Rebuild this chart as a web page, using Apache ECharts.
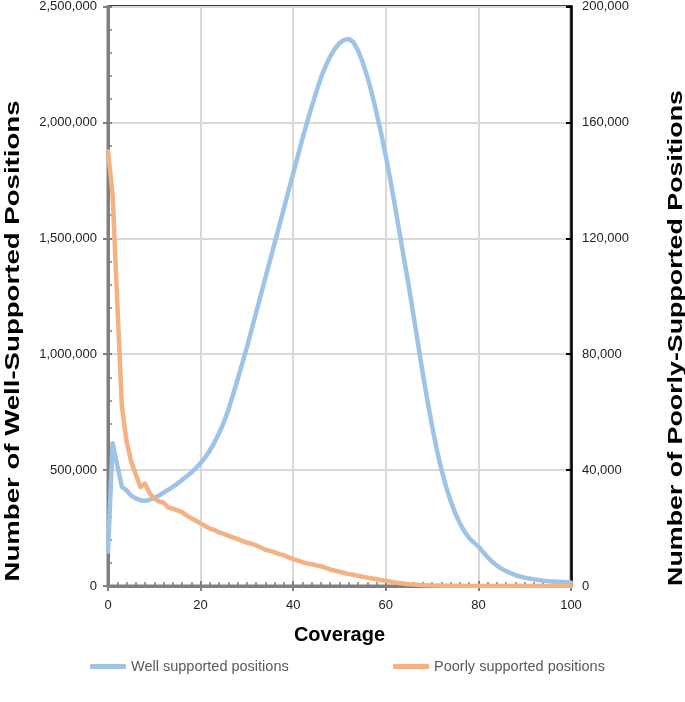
<!DOCTYPE html>
<html>
<head>
<meta charset="utf-8">
<script src="https://cdn.jsdelivr.net/npm/echarts@6/dist/echarts.min.js"></script>
<style>
html,body{margin:0;padding:0;background:#fff;}
#chart{width:685px;height:702px;}
</style>
</head>
<body>
<div id="chart"></div>
<script>
// Well supported positions (left axis), coverage 0..100
const wellSupported = [
  148000, 616000, 520000, 427000, 413000, 390000, 378000, 370000, 367000, 372000,
  380000, 390000, 403000, 415000, 428000, 442000, 457000, 473000, 490000, 509000,
  530000, 555000, 585000, 620000, 660000, 705000, 760000, 825000, 892000, 960000,
  1030000, 1105000, 1180000, 1255000, 1330000, 1405000, 1480000, 1555000, 1630000, 1705000,
  1780000, 1855000, 1930000, 2000000, 2068000, 2133000, 2193000, 2243000, 2284000, 2318000,
  2342000, 2356000, 2360000, 2346000, 2310000, 2260000, 2198000, 2125000, 2042000, 1952000,
  1855000, 1750000, 1638000, 1520000, 1405000, 1290000, 1165000, 1040000, 915000, 800000,
  690000, 590000, 503000, 430000, 367000, 314000, 270000, 235000, 207000, 187000,
  170000, 147000, 124000, 104000, 88000, 75000, 64000, 55000, 47000, 41000,
  36000, 32000, 28500, 25500, 23000, 21000, 19500, 18300, 17200, 16300,
  15500
];
// Poorly supported positions (right axis), coverage 0..100
const poorlySupported = [
  150000, 135000, 98000, 62000, 50000, 43000, 38500, 34200, 35300, 32000,
  30200, 29200, 28800, 27100, 26700, 26100, 25500, 24300, 23400, 22500,
  21600, 20700, 19800, 19300, 18500, 18000, 17300, 16800, 16200, 15600,
  15000, 14600, 14000, 13300, 12500, 12100, 11600, 11000, 10600, 9900,
  9300, 8800, 8200, 7800, 7500, 7100, 6800, 6300, 5700, 5300,
  4900, 4500, 4100, 3900, 3500, 3200, 2900, 2600, 2300, 2100,
  1800, 1500, 1200, 1000, 800, 600, 500, 400, 300, 250,
  200, 150, 120, 100, 80, 60, 50, 40, 30, 20,
  15, 10, 10, 5, 5, 0, 0, 0, 0, 0,
  0, 0, 0, 0, 0, 0, 0, 0, 0, 0,
  0
];
const seriesNames = ['Well supported positions', 'Poorly supported positions'];
const leftTicks = [0, 500000, 1000000, 1500000, 2000000, 2500000];
const rightTicks = [0, 40000, 80000, 120000, 160000, 200000];
const xTicks = [0, 20, 40, 60, 80, 100];

const coverage = wellSupported.map((_, i) => i);
const fmt = v => Math.round(v).toLocaleString('en-US');
const FONT = '"Liberation Sans", Arial, sans-serif';
const GRAY = '#7f7f7f';

const chart = echarts.init(document.getElementById('chart'), null, {renderer: 'canvas'});
chart.setOption({
  animation: false,
  backgroundColor: '#fff',
  grid: {
    left: 108, right: 114, top: 5, bottom: 116,
    show: true, borderColor: '#000', borderWidth: 2.5, backgroundColor: 'transparent'
  },
  legend: [
    {
      data: [seriesNames[0]], left: 85, top: 654,
      itemWidth: 36, itemHeight: 5, itemGap: 4, icon: 'roundRect',
      textStyle: {fontFamily: FONT, fontSize: 14.5, color: '#595959'}
    },
    {
      data: [seriesNames[1]], left: 388, top: 654,
      itemWidth: 36, itemHeight: 5, itemGap: 4, icon: 'roundRect',
      textStyle: {fontFamily: FONT, fontSize: 14.5, color: '#595959'}
    }
  ],
  xAxis: [
    {
      type: 'value', min: xTicks[0], max: xTicks[xTicks.length - 1], interval: 20,
      name: 'Coverage', nameLocation: 'middle', nameGap: 39,
      nameTextStyle: {fontFamily: FONT, fontSize: 20, fontWeight: 'bold', color: '#000'},
      axisLine: {show: true, onZero: false, lineStyle: {color: GRAY, width: 3}},
      axisTick: {show: true, inside: true, length: 5, lineStyle: {color: GRAY, width: 2}},
      minorTick: {show: true, splitNumber: 10, length: 4, lineStyle: {color: GRAY, width: 1.5}},
      axisLabel: {fontFamily: FONT, fontSize: 13, color: '#222', margin: 13},
      splitLine: {show: true, lineStyle: {color: '#d9d9d9', width: 2}}
    },
    {
      // outward half of the crossing major ticks
      type: 'value', min: xTicks[0], max: xTicks[xTicks.length - 1], interval: 20,
      position: 'bottom', offset: 0,
      axisLine: {show: true, onZero: false, lineStyle: {color: GRAY, width: 3}},
      axisTick: {show: true, inside: false, length: 5, lineStyle: {color: GRAY, width: 2}},
      axisLabel: {show: false}, splitLine: {show: false}
    }
  ],
  yAxis: [
    {
      type: 'value', min: leftTicks[0], max: leftTicks[leftTicks.length - 1], interval: 500000,
      position: 'left',
      axisLine: {show: true, onZero: false, lineStyle: {color: GRAY, width: 3}},
      axisTick: {show: true, inside: true, length: 4, lineStyle: {color: GRAY, width: 2}},
      minorTick: {show: true, splitNumber: 5, length: 4, lineStyle: {color: GRAY, width: 1.5}},
      axisLabel: {fontFamily: FONT, fontSize: 13, color: '#222', margin: 11, formatter: fmt},
      splitLine: {show: true, lineStyle: {color: '#d9d9d9', width: 2}}
    },
    {
      type: 'value', min: rightTicks[0], max: rightTicks[rightTicks.length - 1], interval: 40000,
      position: 'right',
      axisLine: {show: true, onZero: false, lineStyle: {color: '#000', width: 2.5}},
      axisTick: {show: true, inside: true, length: 5, lineStyle: {color: '#000', width: 2}},
      axisLabel: {fontFamily: FONT, fontSize: 13, color: '#222', margin: 11, formatter: fmt},
      splitLine: {show: false}
    },
    {
      // outward half of the crossing major ticks on the left axis
      type: 'value', min: leftTicks[0], max: leftTicks[leftTicks.length - 1], interval: 500000,
      position: 'left', offset: 0,
      axisLine: {show: true, onZero: false, lineStyle: {color: GRAY, width: 3}},
      axisTick: {show: true, inside: false, length: 5, lineStyle: {color: GRAY, width: 2}},
      axisLabel: {show: false}, splitLine: {show: false}
    }
  ],
  graphic: [
    {
      type: 'text', x: 13, y: 341, rotation: Math.PI / 2, scaleX: 1.38, scaleY: 1.05,
      style: {text: 'Number of Well-Supported Positions', font: 'bold 20px ' + FONT,
        fill: '#000', align: 'center', verticalAlign: 'middle'}
    },
    {
      type: 'text', x: 676, y: 338, rotation: Math.PI / 2, scaleX: 1.34, scaleY: 1.05,
      style: {text: 'Number of Poorly-Supported Positions', font: 'bold 20px ' + FONT,
        fill: '#000', align: 'center', verticalAlign: 'middle'}
    }
  ],
  series: [
    {
      name: seriesNames[0], type: 'line', xAxisIndex: 0, yAxisIndex: 0, showSymbol: false, symbol: 'none',
      data: coverage.map((c, i) => [c, wellSupported[i]]),
      lineStyle: {color: '#9dc3e6', width: 4.5, cap: 'round', join: 'round'},
      itemStyle: {color: '#9dc3e6'}, z: 3
    },
    {
      name: seriesNames[1], type: 'line', xAxisIndex: 0, yAxisIndex: 1, showSymbol: false, symbol: 'none',
      data: coverage.map((c, i) => [c, poorlySupported[i]]),
      lineStyle: {color: '#f4b183', width: 4.5, cap: 'round', join: 'round'},
      itemStyle: {color: '#f4b183'}, z: 4
    }
  ]
});
</script>
</body>
</html>
